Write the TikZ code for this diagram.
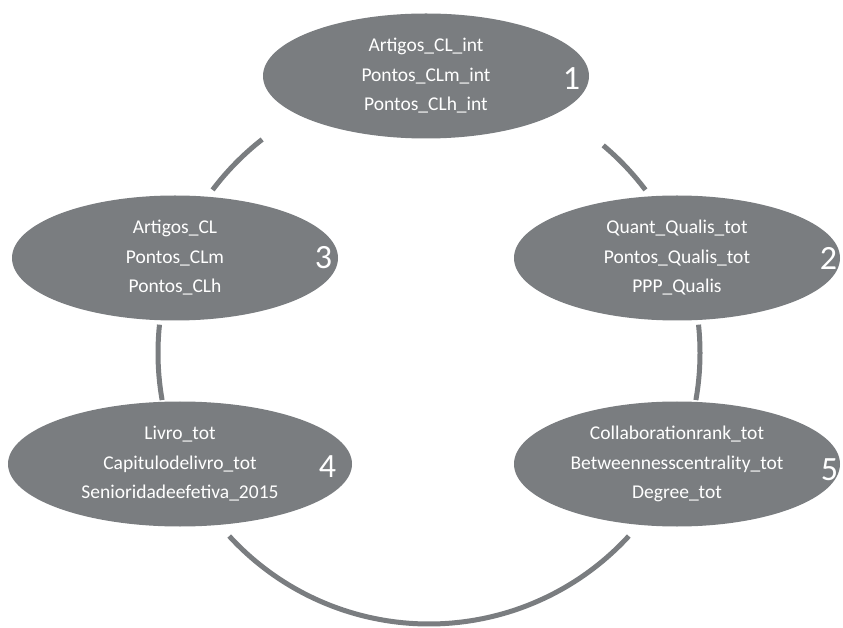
\documentclass[tikz,border=0pt]{standalone}
\usepackage{fontspec}
\setmainfont{Carlito}
\usetikzlibrary{shapes.geometric,positioning}

\definecolor{slate}{HTML}{7A7D80}

\tikzset{
  cluster/.style={ellipse, fill=slate, text=white, inner sep=0pt,
    minimum width=326pt, minimum height=125pt, align=center,
    font=\fontsize{19.5}{29.5}\selectfont},
  tag/.style={text=white, inner sep=0pt, font=\fontsize{34}{36}\selectfont},
  link/.style={draw=slate, line width=5pt}
}

\begin{document}
\begin{tikzpicture}[x=1pt,y=1pt]
  \useasboundingbox (0,0) rectangle (843,627);
  \coordinate (ring) at (429,274);

  % groups
  \node[cluster] (g1) at (426,551) {Artigos\_CL\_int\\Pontos\_CLm\_int\\Pontos\_CLh\_int};
  \node[cluster] (g2) at (677,369) {Quant\_Qualis\_tot\\Pontos\_Qualis\_tot\\PPP\_Qualis};
  \node[cluster] (g3) at (175,369) {Artigos\_CL\\Pontos\_CLm\\Pontos\_CLh};
  \node[cluster, minimum width=344pt] (g4) at (180,163) {Livro\_tot\\Capitulodelivro\_tot\\Senioridadeefetiva\_2015};
  \node[cluster] (g5) at (677,163) {Collaborationrank\_tot\\Betweennesscentrality\_tot\\Degree\_tot};

  % numbers
  \node[tag, left=9pt of g1.east, yshift=-3pt] (n1) {1};
  \node[tag, left=3pt of g2.east] (n2) {2};
  \node[tag, left=6pt of g3.east] (n3) {3};
  \node[tag, left=16pt of g4.east, yshift=-3pt] (n4) {4};
  \node[tag, left=2pt of g5.east, yshift=-6pt] (n5) {5};

  % ring
  \draw[link] ([shift={(128:271)}]ring) arc[start angle=128, end angle=143, radius=271];
  \draw[link] ([shift={(37:271)}]ring) arc[start angle=37, end angle=50, radius=271];
  \draw[link] ([shift={(174:271)}]ring) arc[start angle=174, end angle=190, radius=271];
  \draw[link] ([shift={(-10:271)}]ring) arc[start angle=-10, end angle=6, radius=271];
  \draw[link] ([shift={(222.5:271)}]ring) arc[start angle=222.5, end angle=317.5, radius=271];
\end{tikzpicture}
\end{document}
